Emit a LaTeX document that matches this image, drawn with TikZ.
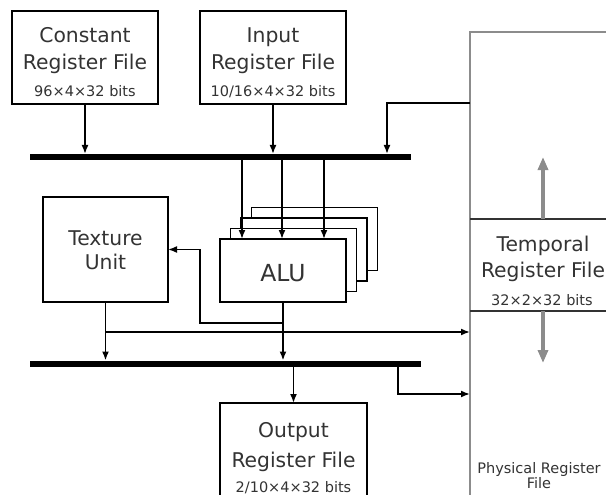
\documentclass[tikz,border=0pt]{standalone}
\usepackage{fontspec}
\setmainfont{DejaVu Sans}
\usetikzlibrary{arrows.meta}

\begin{document}
\begin{tikzpicture}[x=1pt,y=-1pt,
  box/.style={draw=black, line width=1.7pt, fill=white, inner sep=0pt, outer sep=0pt},
  lbl/.style={anchor=base, inner sep=0pt, font=\fontsize{20.3}{21}\selectfont, text=black!80},
  small/.style={anchor=base, inner sep=0pt, font=\fontsize{14.5}{15}\selectfont, text=black!80},
  alutext/.style={anchor=base, inner sep=0pt, font=\fontsize{23.5}{24}\selectfont, text=black!80},
  bus/.style={fill=black, inner sep=0pt, outer sep=0pt, minimum height=6pt},
  wire/.style={line width=1.7pt, draw=black},
  arr/.style={wire, -{Latex[length=9pt,width=7pt]}},
  garr/.style={draw=black!45, line width=4.5pt, -{Triangle[length=13pt,width=10pt]}},
  prfbox/.style={draw=black!45, line width=2.4pt, inner sep=0pt, outer sep=0pt},
  sep/.style={draw=black!80, line width=1.7pt}
]
\useasboundingbox (0,0) rectangle (606,495);
\clip (0,0) rectangle (606,495);

% physical register file (extends past the right and bottom edges)
\node[prfbox, minimum width=160pt, minimum height=480pt] (prf) at (550,272) {};
\node[inner sep=0pt, outer sep=0pt, minimum width=160pt, minimum height=92pt] (trf) at (550,265) {};
\draw[sep] (trf.north west) -- (trf.north east);
\draw[sep] (trf.south west) -- (trf.south east);
\coordinate (gx) at (543,0);
\coordinate (upTip) at (543,157);
\coordinate (downTip) at (543,363);
\draw[garr] (gx |- trf.north) -- (upTip);
\draw[garr] (gx |- trf.south) -- (downTip);

% register files and units
\node[box, minimum width=146pt, minimum height=93pt] (crf) at (85,57.5) {};
\node[box, minimum width=146pt, minimum height=93pt] (irf) at (273,57.5) {};
\node[box, minimum width=125pt, minimum height=105pt] (tex) at (105.5,249.5) {};
\node[box, minimum width=147pt, minimum height=97pt] (orf) at (293.5,451.5) {};

% stacked ALUs, back to front
\node[box, minimum width=126pt, minimum height=63pt] (alu4) at (314.5,239) {};
\node[box, minimum width=126pt, minimum height=63pt] (alu3) at (304,249.5) {};
\node[box, minimum width=126pt, minimum height=63pt] (alu2) at (293.5,260) {};
\node[box, minimum width=126pt, minimum height=63pt] (alu) at (283,270.5) {};

% buses
\node[bus, minimum width=381pt] (bus1) at (220.5,157) {};
\node[bus, minimum width=391pt] (bus2) at (225.5,363.5) {};

% labels
\node[lbl] (l1) at (85,42.5) {Constant};
\node[lbl] (l2) at (85,70) {Register File};
\node[small] (l3) at (85,97) {96×4×32 bits};
\node[lbl] (l4) at (273,42.5) {Input};
\node[lbl] (l5) at (273,70) {Register File};
\node[small] (l6) at (273,97) {10/16×4×32 bits};
\node[lbl] (l7) at (105.5,245) {Texture};
\node[lbl] (l8) at (105.5,269) {Unit};
\node[alutext] (l9) at (283,281) {ALU};
\node[lbl] (l10) at (293.5,437) {Output};
\node[lbl] (l11) at (293.5,467) {Register File};
\node[small] (l12) at (293.5,492) {2/10×4×32 bits};
\node[lbl] (l13) at (543,251) {Temporal};
\node[lbl] (l14) at (543,277) {Register File};
\node[small] (l15) at (542,305) {32×2×32 bits};
\node[small] (l16) at (539,473) {Physical Register};
\node[small] (l17) at (539,488) {File};

% reads onto the upper bus
\draw[arr] (crf.south) -- (crf.south |- bus1.north);
\draw[arr] (irf.south) -- (irf.south |- bus1.north);
\coordinate (tapA) at (387,103);
\draw[arr] (prf.west |- tapA) -- (tapA) -- (tapA |- bus1.north);

% upper bus to the ALU operands
\coordinate (op1) at (242,0);
\coordinate (op2) at (282,0);
\coordinate (op3) at (324,0);
\draw[arr] (op1 |- bus1.south) -- (op1 |- alu.north);
\draw[arr] (op2 |- bus1.south) -- (op2 |- alu.north);
\draw[arr] (op3 |- bus1.south) -- (op3 |- alu.north);

% ALU results
\draw[arr] (alu.south) -- (alu.south |- bus2.north);
\coordinate (fb) at (200,323);
\draw[arr] (alu.south |- fb) -- (fb) -- (fb |- tex.east) -- (tex.east);

% texture unit results
\draw[arr] (tex.south) -- (tex.south |- bus2.north);
\coordinate (tb) at (106,332);
\draw[arr] (tex.south |- tb) -- (prf.west |- tb);

% lower bus to the outputs
\draw[arr] (orf.north |- bus2.south) -- (orf.north);
\coordinate (ob) at (398,394);
\draw[arr] (ob |- bus2.south) -- (ob) -- (prf.west |- ob);
\end{tikzpicture}
\end{document}
